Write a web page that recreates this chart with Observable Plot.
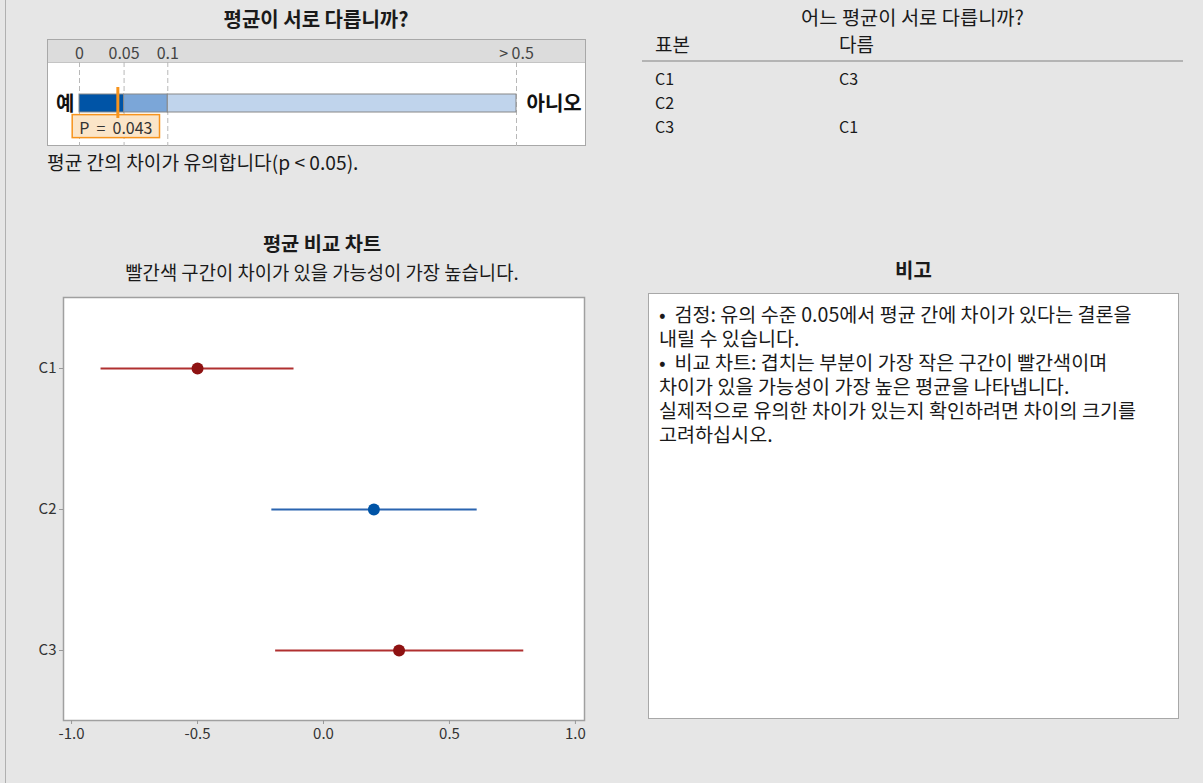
<!DOCTYPE html>
<html><head><meta charset="utf-8">
<script src="https://cdn.jsdelivr.net/npm/d3@7"></script>
<script src="https://cdn.jsdelivr.net/npm/@observablehq/plot@0.6"></script>
<style>
html,body{margin:0;padding:0}
body{background:#e6e6e6;font-family:"Noto Sans CJK KR","Noto Sans",sans-serif;color:#1a1a1a;width:1203px;height:783px;position:relative;overflow:hidden}
.abs{position:absolute;white-space:nowrap;line-height:24px}
.ttl{font-weight:bold;font-size:20px;text-align:center}
#leftline{left:5px;top:0;width:1px;height:783px;background:#b0b0b0}
#pbox{left:47px;top:39px;width:537px;height:105px;border:1px solid #a8a8a8;background:#fff}
#phead{left:0;top:0;width:537px;height:22px;background:#dcdcdc;border-bottom:1px solid #c4c4c4}
#tbl .h{font-size:19px}
#tbl .c{font-size:16px}
#notes{left:648px;top:293px;width:529px;height:424px;border:1px solid #a8a8a8;background:#fff}
#notes div{font-size:19.6px;line-height:24px;padding:8px 0 0 10px;white-space:pre}
</style></head><body>
<div class="abs" id="leftline"></div>
<div class="abs ttl" id="t1" style="left:47px;top:7px;width:538px"></div>
<div class="abs" id="pbox"><div class="abs" id="phead"></div></div>
<div class="abs" id="pplot" style="left:47px;top:39px"></div>
<div class="abs" id="pmsg" style="left:47px;top:150px;font-size:19.2px"></div>
<div class="abs" id="t2" style="left:642px;top:5px;width:541px;text-align:center;font-size:19.8px"></div>
<div class="abs" id="tbl" style="left:0;top:0"></div>
<div class="abs" style="left:642px;top:60px;width:541px;height:2px;background:#b4b4b4"></div>
<div class="abs ttl" id="t3" style="left:22px;top:232px;width:600px;font-size:19.8px;line-height:22px"></div>
<div class="abs" id="t3s" style="left:22px;top:260px;width:600px;text-align:center;font-size:18.8px"></div>
<div class="abs" id="cplot" style="left:0;top:290px"></div>
<div class="abs ttl" id="t4" style="left:648px;top:258px;width:531px"></div>
<div class="abs" id="notes"><div id="notetext"></div></div>
<script>
// ---- data ----
const pTitle = "평균이 서로 다릅니까?";
const pThresholds = [0, 0.05, 0.1, 0.5];
const pTickLabels = ["0", "0.05", "0.1", "> 0.5"];
const pValue = 0.043;
const pYes = "예";
const pNo = "아니오";
const pMessage = "평균 간의 차이가 유의합니다(p < 0.05).";

const tableTitle = "어느 평균이 서로 다릅니까?";
const tableHeaders = ["표본", "다름"];
const samples = ["C1", "C2", "C3"];
const differsFrom = ["C3", "", "C1"];

const chartTitle = "평균 비교 차트";
const chartSubtitle = "빨간색 구간이 차이가 있을 가능성이 가장 높습니다.";
const means = [-0.5, 0.2, 0.3];
const lowers = [-0.883, -0.205, -0.19];
const uppers = [-0.117, 0.61, 0.795];
const significant = [true, false, true];
const xTicks = [-1.0, -0.5, 0.0, 0.5, 1.0];

const notesTitle = "비고";
const notesLines = [
  "•  검정: 유의 수준 0.05에서 평균 간에 차이가 있다는 결론을",
  "내릴 수 있습니다.",
  "•  비교 차트: 겹치는 부분이 가장 작은 구간이 빨간색이며",
  "차이가 있을 가능성이 가장 높은 평균을 나타냅니다.",
  "실제적으로 유의한 차이가 있는지 확인하려면 차이의 크기를",
  "고려하십시오."
];

// ---- styles ----
const segColors = ["#0054a6", "#7ba6d8", "#c0d4ec"];
const red = "#8e1212", redLine = "#b03030";
const blue = "#0054a6", blueLine = "#2a64b0";
const FONT = '"Noto Sans CJK KR","Noto Sans",sans-serif';
// display units of the piecewise p-value axis (style: spacing of the stops)
const pStops = [0, 1, 1.98, 9.8];

// ---- text ----
document.getElementById("t1").textContent = pTitle;
document.getElementById("pmsg").textContent = pMessage;
document.getElementById("t2").textContent = tableTitle;
document.getElementById("t3").textContent = chartTitle;
document.getElementById("t3s").textContent = chartSubtitle;
document.getElementById("t4").textContent = notesTitle;
document.getElementById("notetext").textContent = notesLines.join("\n");
const tbl = document.getElementById("tbl");
const colX = [655, 839];
tableHeaders.forEach((h, i) => {
  const d = document.createElement("div");
  d.className = "abs h"; d.style.left = colX[i] + "px"; d.style.top = "32px"; d.textContent = h;
  tbl.appendChild(d);
});
samples.forEach((s, i) => {
  [s, differsFrom[i]].forEach((v, j) => {
    const d = document.createElement("div");
    d.className = "abs c"; d.style.left = colX[j] + "px"; d.style.top = (66 + i * 24) + "px"; d.textContent = v;
    tbl.appendChild(d);
  });
});

// ---- p-value bar ----
const pTransform = d3.scaleLinear().domain(pThresholds).range(pStops).clamp(true);
const segs = pThresholds.slice(0, -1).map((s, i) => ({start: s, end: pThresholds[i + 1], k: i}));
const pplot = Plot.plot({
  width: 539, height: 107,
  marginTop: 23, marginBottom: 0, marginLeft: 32, marginRight: 70,
  style: {background: "transparent", fontFamily: FONT, overflow: "visible", color: "#333"},
  x: {transform: pTransform},
  y: {type: "band", domain: ["p"], padding: 0, axis: null},
  marks: [
    Plot.ruleX(pThresholds, {stroke: "#b8b8b8", strokeDasharray: "5,3"}),
    // axis ticks are given in the scale's (transformed) space
    Plot.axisX({anchor: "top", ticks: pThresholds.map(pTransform), tickFormat: (d) => pTickLabels[pStops.indexOf(d)], tickSize: 0, tickPadding: 4, fontSize: 16, fill: "#444"}),
    Plot.barX(segs, {x1: "start", x2: "end", y: () => "p", fill: d => segColors[d.k], stroke: "#888", strokeWidth: 1, insetTop: 32, insetBottom: 34}),
    Plot.text([pValue], {x: d => d, y: () => "p", text: d => "P  =  " + d.toFixed(3), dy: 24, dx: -2, fontSize: 16, fill: "#333", className: "plabel"}),
    Plot.tickX([pValue], {x: d => d, y: () => "p", stroke: "#f7941d", strokeWidth: 3, insetTop: 25, insetBottom: 28}),
    Plot.text([pYes], {x: () => pThresholds[0], y: () => "p", text: d => d, textAnchor: "end", dx: -5, fontSize: 20, fontWeight: "bold", fill: "#111"}),
    Plot.text([pNo], {x: () => pThresholds[pThresholds.length - 1], y: () => "p", text: d => d, textAnchor: "start", dx: 10, fontSize: 20, fontWeight: "bold", fill: "#111"})
  ]
});
document.getElementById("pplot").appendChild(pplot);
// orange box behind the p label
const lab = pplot.querySelector(".plabel text");
if (lab) {
  const bb = lab.getBBox();
  const r = document.createElementNS("http://www.w3.org/2000/svg", "rect");
  r.setAttribute("x", bb.x - 7); r.setAttribute("y", bb.y);
  r.setAttribute("width", bb.width + 14); r.setAttribute("height", bb.height - 1);
  if (lab.getAttribute("transform")) r.setAttribute("transform", lab.getAttribute("transform"));
  r.setAttribute("fill", "#fbe5c8"); r.setAttribute("stroke", "#f7941d"); r.setAttribute("stroke-width", 1.5);
  lab.parentNode.insertBefore(r, lab);
}

// ---- comparison chart ----
const rows = samples.map((s, i) => ({s, m: means[i], lo: lowers[i], hi: uppers[i], sig: significant[i]}));
const cplot = Plot.plot({
  width: 600, height: 460,
  marginLeft: 63, marginRight: 16, marginTop: 7, marginBottom: 30,
  style: {background: "transparent", fontFamily: FONT, color: "#333"},
  x: {domain: [-1.032, 1.036]},
  y: {type: "point", domain: samples, padding: 0.5},
  marks: [
    Plot.frame({fill: "white", stroke: "#a0a0a0", strokeWidth: 1.5}),
    Plot.axisX({ticks: xTicks, tickFormat: d => d.toFixed(1), tickSize: 4, tickPadding: 4, fontSize: 15, stroke: "#999", fill: "#333", label: null}),
    Plot.axisY({tickSize: 4, tickPadding: 3, fontSize: 15, stroke: "#999", fill: "#333", label: null}),
    Plot.ruleY(rows, {y: "s", x1: "lo", x2: "hi", stroke: d => d.sig ? redLine : blueLine, strokeWidth: 2}),
    Plot.dot(rows, {x: "m", y: "s", r: 6, fill: d => d.sig ? red : blue, stroke: "none"})
  ]
});
document.getElementById("cplot").appendChild(cplot);
</script>
</body></html>
